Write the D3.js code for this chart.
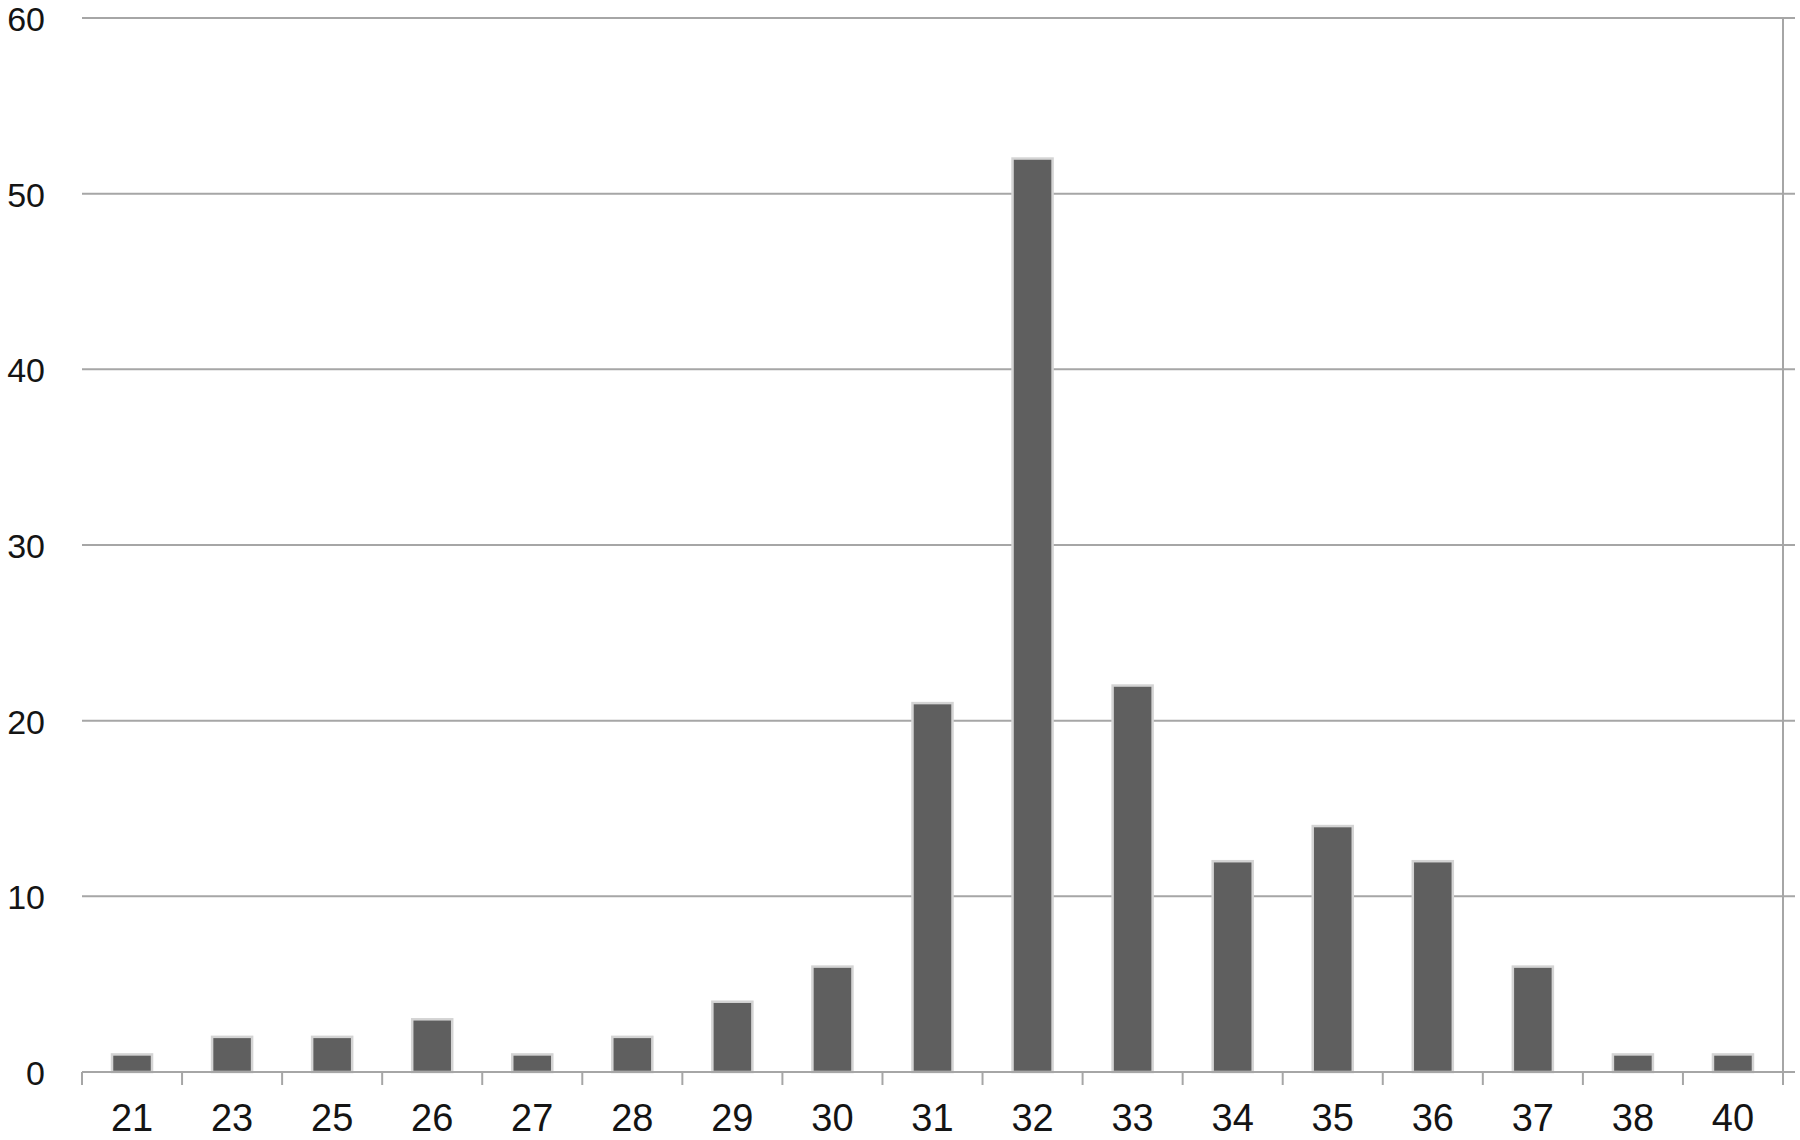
<!DOCTYPE html>
<html>
<head>
<meta charset="utf-8">
<script src="https://cdn.jsdelivr.net/npm/d3@7"></script>
<style>
  html, body { margin: 0; padding: 0; background: #ffffff; }
  svg { display: block; }
  text { fill: #141414; }
</style>
</head>
<body>
<svg id="chart" width="1800" height="1140"></svg>
<script>
const categories = ["21","23","25","26","27","28","29","30","31","32","33","34","35","36","37","38","40"];
const values = [1, 2, 2, 3, 1, 2, 4, 6, 21, 52, 22, 12, 14, 12, 6, 1, 1];
const yTicks = [0, 10, 20, 30, 40, 50, 60];

(function () {
const svg = d3.select("#chart");
const mLeft = 82, mRight = 1783, mTop = 18, mBottom = 1072;

const x = d3.scaleBand().domain(categories).range([mLeft, mRight]).paddingInner(0.6).paddingOuter(0.3);
const y = d3.scaleLinear().domain([0, 60]).range([mBottom, mTop]);

// gridlines
svg.append("g").selectAll("line").data(yTicks.filter(d => d > 0)).join("line")
  .attr("x1", mLeft).attr("x2", mRight + 12)
  .attr("y1", d => y(d)).attr("y2", d => y(d))
  .attr("stroke", "#a6a6a6").attr("stroke-width", 2);

// right vertical line
svg.append("line")
  .attr("x1", mRight).attr("x2", mRight)
  .attr("y1", mTop).attr("y2", mBottom + 13)
  .attr("stroke", "#a6a6a6").attr("stroke-width", 2);

// y labels
svg.append("g").selectAll("text").data(yTicks).join("text")
  .attr("x", 45).attr("y", d => y(d))
  .attr("dy", "0.38em")
  .attr("text-anchor", "end")
  .attr("font-family", "'Liberation Sans', Arial, sans-serif")
  .attr("font-size", 34)
  .text(d => d);

// bars
svg.append("g").selectAll("rect").data(values).join("rect")
  .attr("x", (d, i) => x(categories[i]))
  .attr("y", d => y(d))
  .attr("width", x.bandwidth())
  .attr("height", d => mBottom - y(d))
  .attr("fill", "#5f5f5f")
  .attr("stroke", "#d4d4d4")
  .attr("stroke-width", 2.5);

// x axis
const gx = svg.append("g").attr("transform", `translate(0,${mBottom})`);
gx.append("line").attr("x1", mLeft).attr("x2", mRight + 12).attr("y1", 0).attr("y2", 0)
  .attr("stroke", "#a6a6a6").attr("stroke-width", 2);
const step = x.step();
const boundaries = d3.range(categories.length + 1).map(i => mLeft + i * step);
gx.selectAll("line.tick").data(boundaries).join("line").attr("class", "tick")
  .attr("x1", d => d).attr("x2", d => d).attr("y1", 0).attr("y2", 13)
  .attr("stroke", "#a6a6a6").attr("stroke-width", 2);
gx.selectAll("text").data(categories).join("text")
  .attr("x", d => x(d) + x.bandwidth() / 2)
  .attr("y", 59)
  .attr("text-anchor", "middle")
  .attr("font-family", "'Liberation Sans', Arial, sans-serif")
  .attr("font-size", 38)
  .text(d => d);
})();
</script>
</body>
</html>
